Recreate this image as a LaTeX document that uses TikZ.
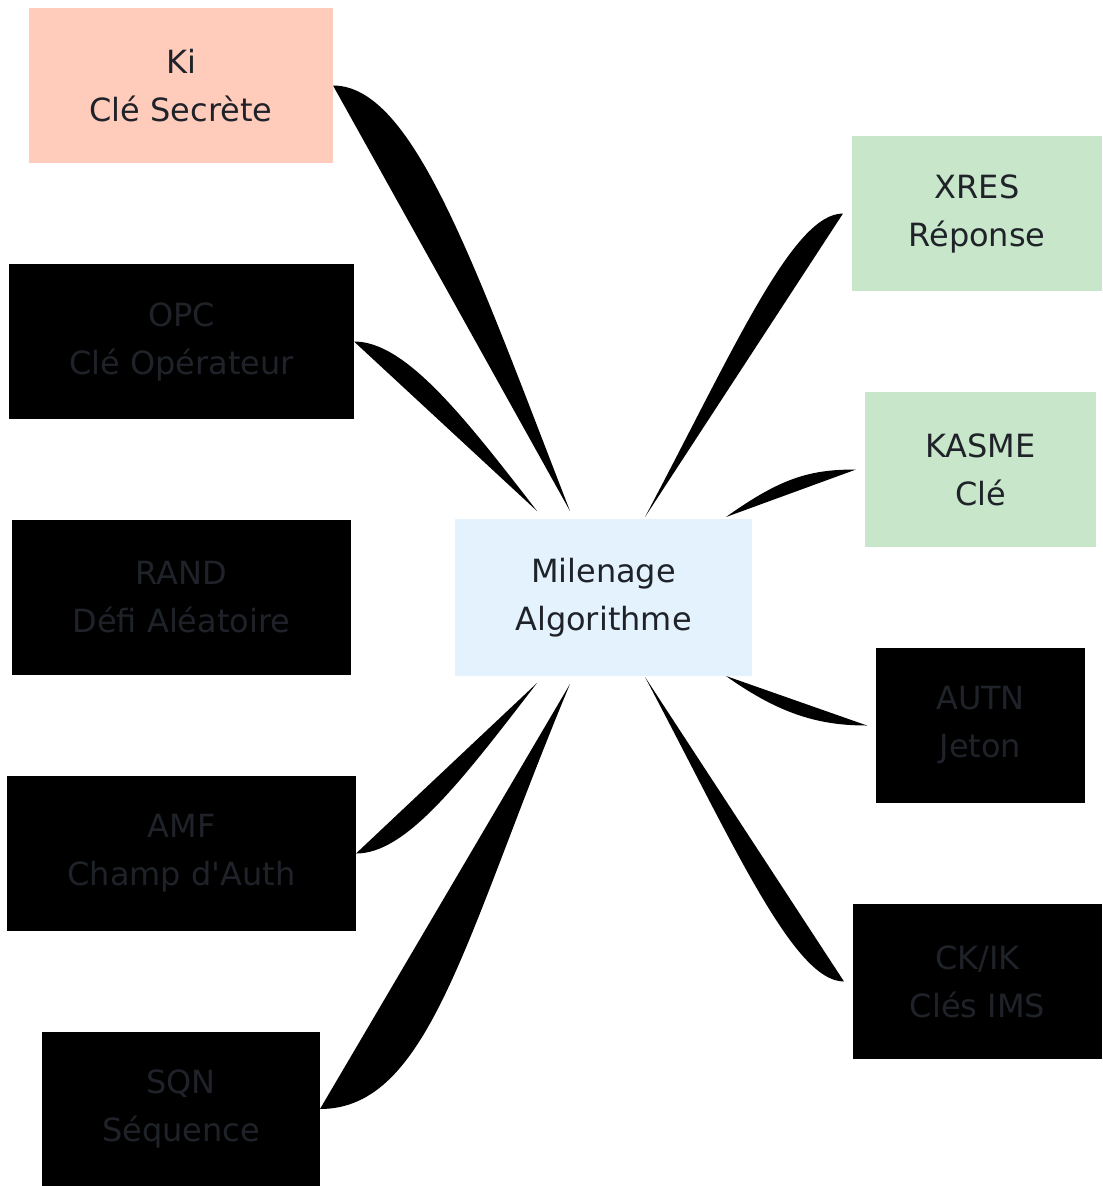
\documentclass[tikz,border=0pt]{standalone}
\usepackage{fontspec}
\setmainfont{DejaVu Sans}[Ligatures=TeXOff]
\usepackage{xcolor}
\definecolor{kisalmon}{HTML}{FFCCBC}
\definecolor{coreblue}{HTML}{E3F2FD}
\definecolor{outgreen}{HTML}{C8E6C9}
\definecolor{txtgray}{HTML}{1F2329}
\usetikzlibrary{calc}
\tikzset{
  kbox/.style   ={rectangle, draw=none, inner sep=0pt, outer sep=0pt, align=center,
                  minimum height=155*0.2mm, text=txtgray,
                  font=\fontsize{18.2pt}{27.3pt}\selectfont},
  secretbox/.style={kbox, fill=kisalmon},
  corebox/.style={kbox, fill=coreblue, minimum height=157*0.2mm},
  outbox/.style ={kbox, fill=outgreen},
  darkbox/.style={kbox, fill=black},
  leaf/.style   ={fill=black, draw=none},
}

\begin{document}
\begin{tikzpicture}[x=0.2mm, y=-0.2mm]
  \useasboundingbox (0,0) rectangle (1102,1186);
  % inputs
  \node[secretbox, minimum width=304*0.2mm] (ki)   at (181,85.5)   {Ki\\Clé Secrète};
  \node[darkbox,   minimum width=345*0.2mm] (opc)  at (181.5,341.5) {OPC\\Clé Opérateur};
  \node[darkbox,   minimum width=339*0.2mm] (rand) at (181.5,597.5) {RAND\\Défi Aléatoire};
  \node[darkbox,   minimum width=349*0.2mm] (amf)  at (181.5,853.5) {AMF\\Champ d'Auth};
  \node[darkbox,   minimum width=278*0.2mm] (sqn)  at (181,1109)    {SQN\\Séquence};
  % algorithm
  \node[corebox,   minimum width=297*0.2mm] (core) at (603.5,597.5) {Milenage\\Algorithme};
  % outputs
  \node[outbox,    minimum width=250*0.2mm] (xres)  at (977,213.5)  {XRES\\Réponse};
  \node[outbox,    minimum width=231*0.2mm] (kasme) at (980.5,469.5) {KASME\\Clé};
  \node[darkbox,   minimum width=209*0.2mm] (autn)  at (980.5,725.5) {AUTN\\Jeton};
  \node[darkbox,   minimum width=249*0.2mm] (ckik)  at (977.5,981.5) {CK/IK\\Clés IMS};

  % tips round the algorithm box
  \coordinate (tKi)    at (570,511);
  \coordinate (tOpc)   at (537,511);
  \coordinate (tAmf)   at (537,683);
  \coordinate (tSqn)   at (570,684);
  \coordinate (tXres)  at (645,517);
  \coordinate (tKasme) at (726,517);
  \coordinate (tAutn)  at (726,676);
  \coordinate (tCkik)  at (645,677);

  \fill[leaf] (ki.east)  .. controls +(80,0)  and +(-97,-250) .. (tKi)  -- cycle;
  \fill[leaf] (opc.east) .. controls +(50,0)  and +(-77,-100) .. (tOpc) -- cycle;
  \fill[leaf] (amf.east) .. controls +(50,0)  and +(-77,100)  .. (tAmf) -- cycle;
  \fill[leaf] (sqn.east) .. controls +(110,0) and +(-105,251) .. (tSqn) -- cycle;
  \fill[leaf] ($(xres.west)+(-9,0)$)  .. controls +(-50,0) and +(90,-170) .. (tXres)  -- cycle;
  \fill[leaf] ($(kasme.west)+(-9,0)$) .. controls +(-45,0) and +(56,-40)  .. (tKasme) -- cycle;
  \fill[leaf] ($(autn.west)+(-9,0)$)  .. controls +(-45,0) and +(56,40)   .. (tAutn)  -- cycle;
  \fill[leaf] ($(ckik.west)+(-9,0)$)  .. controls +(-50,0) and +(90,170)  .. (tCkik)  -- cycle;
\end{tikzpicture}
\end{document}
